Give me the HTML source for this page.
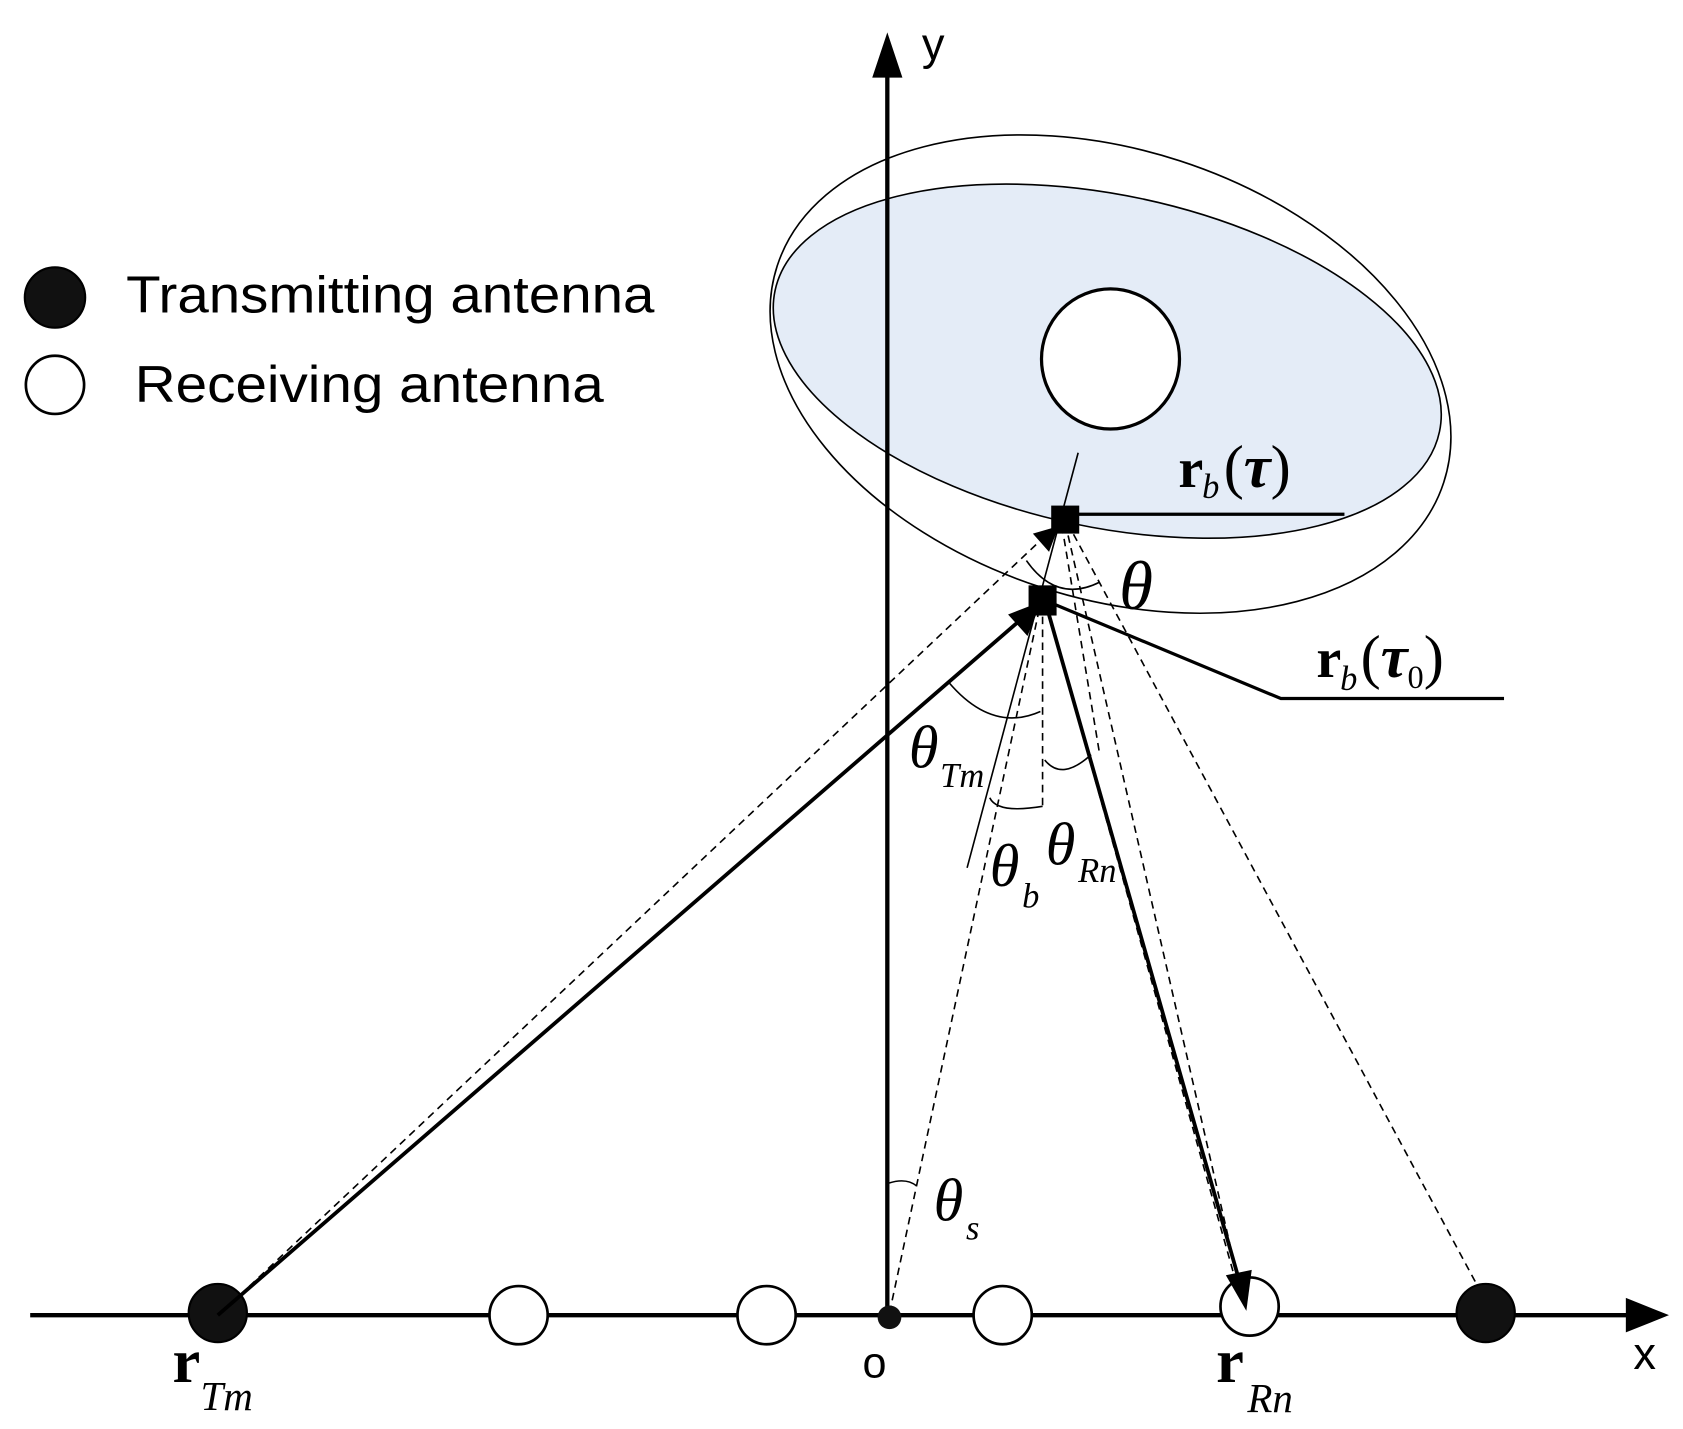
<!DOCTYPE html>
<html><head><meta charset="utf-8"><style>
html,body{margin:0;padding:0;background:#fff;}
svg{display:block;}
.s{font-family:"Liberation Serif",serif;}
.a{font-family:"Liberation Sans",sans-serif;}
</style></head><body>
<svg width="1683" height="1429" viewBox="0 0 1561 1325.6" preserveAspectRatio="none" xmlns="http://www.w3.org/2000/svg">
<ellipse cx="1030" cy="347" rx="325" ry="208" transform="rotate(18 1030 347)" fill="#fff" stroke="#000" stroke-width="1.5"/>
<ellipse cx="1027" cy="335" rx="315" ry="154" transform="rotate(12 1027 335)" fill="#e4ecf7" stroke="#000" stroke-width="1.5"/>
<ellipse cx="1030" cy="333" rx="64" ry="65" fill="#fff" stroke="#000" stroke-width="3"/>
<line x1="28" y1="1220" x2="1515" y2="1220" stroke="#000" stroke-width="4"/>
<polygon points="1548,1220 1508,1204 1508,1236" fill="#000"/>
<line x1="823" y1="1220" x2="823" y2="70" stroke="#000" stroke-width="4"/>
<polygon points="823,30 809,72 837,72" fill="#000"/>
<text x="855" y="55" class="a" font-size="42">y</text>
<text x="1515" y="1270" class="a" font-size="42">x</text>
<text x="800" y="1278" class="a" font-size="40">o</text>
<line x1="1000" y1="420" x2="897" y2="805" stroke="#000" stroke-width="1.5"/>
<g stroke="#000" stroke-width="1.5" stroke-dasharray="7,5" fill="none">
<line x1="205" y1="1218" x2="975" y2="492"/>
<line x1="988" y1="485" x2="1150" y2="1195"/>
<line x1="990" y1="485" x2="1385" y2="1220"/>
<line x1="825" y1="1218" x2="965" y2="560"/>
<line x1="967" y1="560" x2="967" y2="752"/>
<line x1="985" y1="488" x2="1020" y2="700"/>
<line x1="970" y1="560" x2="1148" y2="1195"/>
</g>
<g stroke="#000" stroke-width="1.5" fill="none">
<path d="M880,633 Q920,680 965,660"/>
<path d="M952,520 Q980,560 1020,540"/>
<path d="M918,740 Q925,755 967,748"/>
<path d="M969,705 Q985,725 1012,700"/>
<path d="M823,1098 Q840,1092 850,1100"/>
</g>
<circle cx="202" cy="1218" r="27" fill="#111" stroke="#000" stroke-width="2"/>
<circle cx="1378" cy="1218" r="27" fill="#111" stroke="#000" stroke-width="2"/>
<circle cx="481" cy="1220" r="27" fill="#fff" stroke="#000" stroke-width="2.5"/>
<circle cx="711" cy="1220" r="27" fill="#fff" stroke="#000" stroke-width="2.5"/>
<circle cx="930" cy="1220" r="27" fill="#fff" stroke="#000" stroke-width="2.5"/>
<circle cx="1159" cy="1212" r="27" fill="#fff" stroke="#000" stroke-width="2.5"/>
<circle cx="825" cy="1222" r="11" fill="#111"/>
<line x1="202" y1="1220" x2="950" y2="572" stroke="#000" stroke-width="3.5"/>
<polygon points="966,558 935,570 953,590" fill="#000"/>
<polygon points="982,488 958,495 973,512" fill="#000"/>
<line x1="970" y1="560" x2="1150" y2="1190" stroke="#000" stroke-width="3.5"/>
<polygon points="1156,1216 1137,1183 1161,1178" fill="#000"/>
<rect x="975" y="469" width="26" height="26" fill="#000"/>
<line x1="988" y1="477" x2="1247" y2="477" stroke="#000" stroke-width="3"/>
<rect x="954" y="543" width="26" height="28" fill="#000"/>
<polyline points="967,556 1188,648 1395,648" fill="none" stroke="#000" stroke-width="3"/>
<circle cx="51" cy="276" r="28" fill="#111" stroke="#000" stroke-width="2"/>
<circle cx="51" cy="357" r="27" fill="#fff" stroke="#000" stroke-width="2.5"/>
<text x="117" y="290" class="a" font-size="48" textLength="490" lengthAdjust="spacingAndGlyphs">Transmitting antenna</text>
<text x="125" y="373" class="a" font-size="48" textLength="435" lengthAdjust="spacingAndGlyphs">Receiving antenna</text>
<text x="160" y="1282" class="s" font-size="58" font-weight="bold">r</text>
<text x="186" y="1308" class="s" font-size="38" font-style="italic">Tm</text>
<text x="1128" y="1282" class="s" font-size="58" font-weight="bold">r</text>
<text x="1157" y="1310" class="s" font-size="38" font-style="italic">Rn</text>
<text x="1093" y="452" class="s" font-size="52" font-weight="bold">r</text>
<text x="1115" y="462" class="s" font-size="32" font-style="italic">b</text>
<text x="1135" y="452" class="s" font-size="56">(<tspan font-style="italic" font-weight="bold">τ</tspan>)</text>
<text x="1221" y="628" class="s" font-size="52" font-weight="bold">r</text>
<text x="1243" y="640" class="s" font-size="32" font-style="italic">b</text>
<text x="1262" y="628" class="s" font-size="56">(<tspan font-style="italic" font-weight="bold">τ</tspan><tspan font-size="30" dy="10">0</tspan><tspan dy="-10">)</tspan></text>
<text x="1038" y="565" class="s" font-size="64" font-style="italic">θ</text>
<text x="843" y="712" class="s" font-size="56" font-style="italic">θ</text>
<text x="872" y="730" class="s" font-size="32" font-style="italic">Tm</text>
<text x="918" y="822" class="s" font-size="56" font-style="italic">θ</text>
<text x="948" y="842" class="s" font-size="32" font-style="italic">b</text>
<text x="970" y="802" class="s" font-size="56" font-style="italic">θ</text>
<text x="1000" y="818" class="s" font-size="32" font-style="italic">Rn</text>
<text x="866" y="1132" class="s" font-size="56" font-style="italic">θ</text>
<text x="896" y="1150" class="s" font-size="32" font-style="italic">s</text>
</svg>
</body></html>
